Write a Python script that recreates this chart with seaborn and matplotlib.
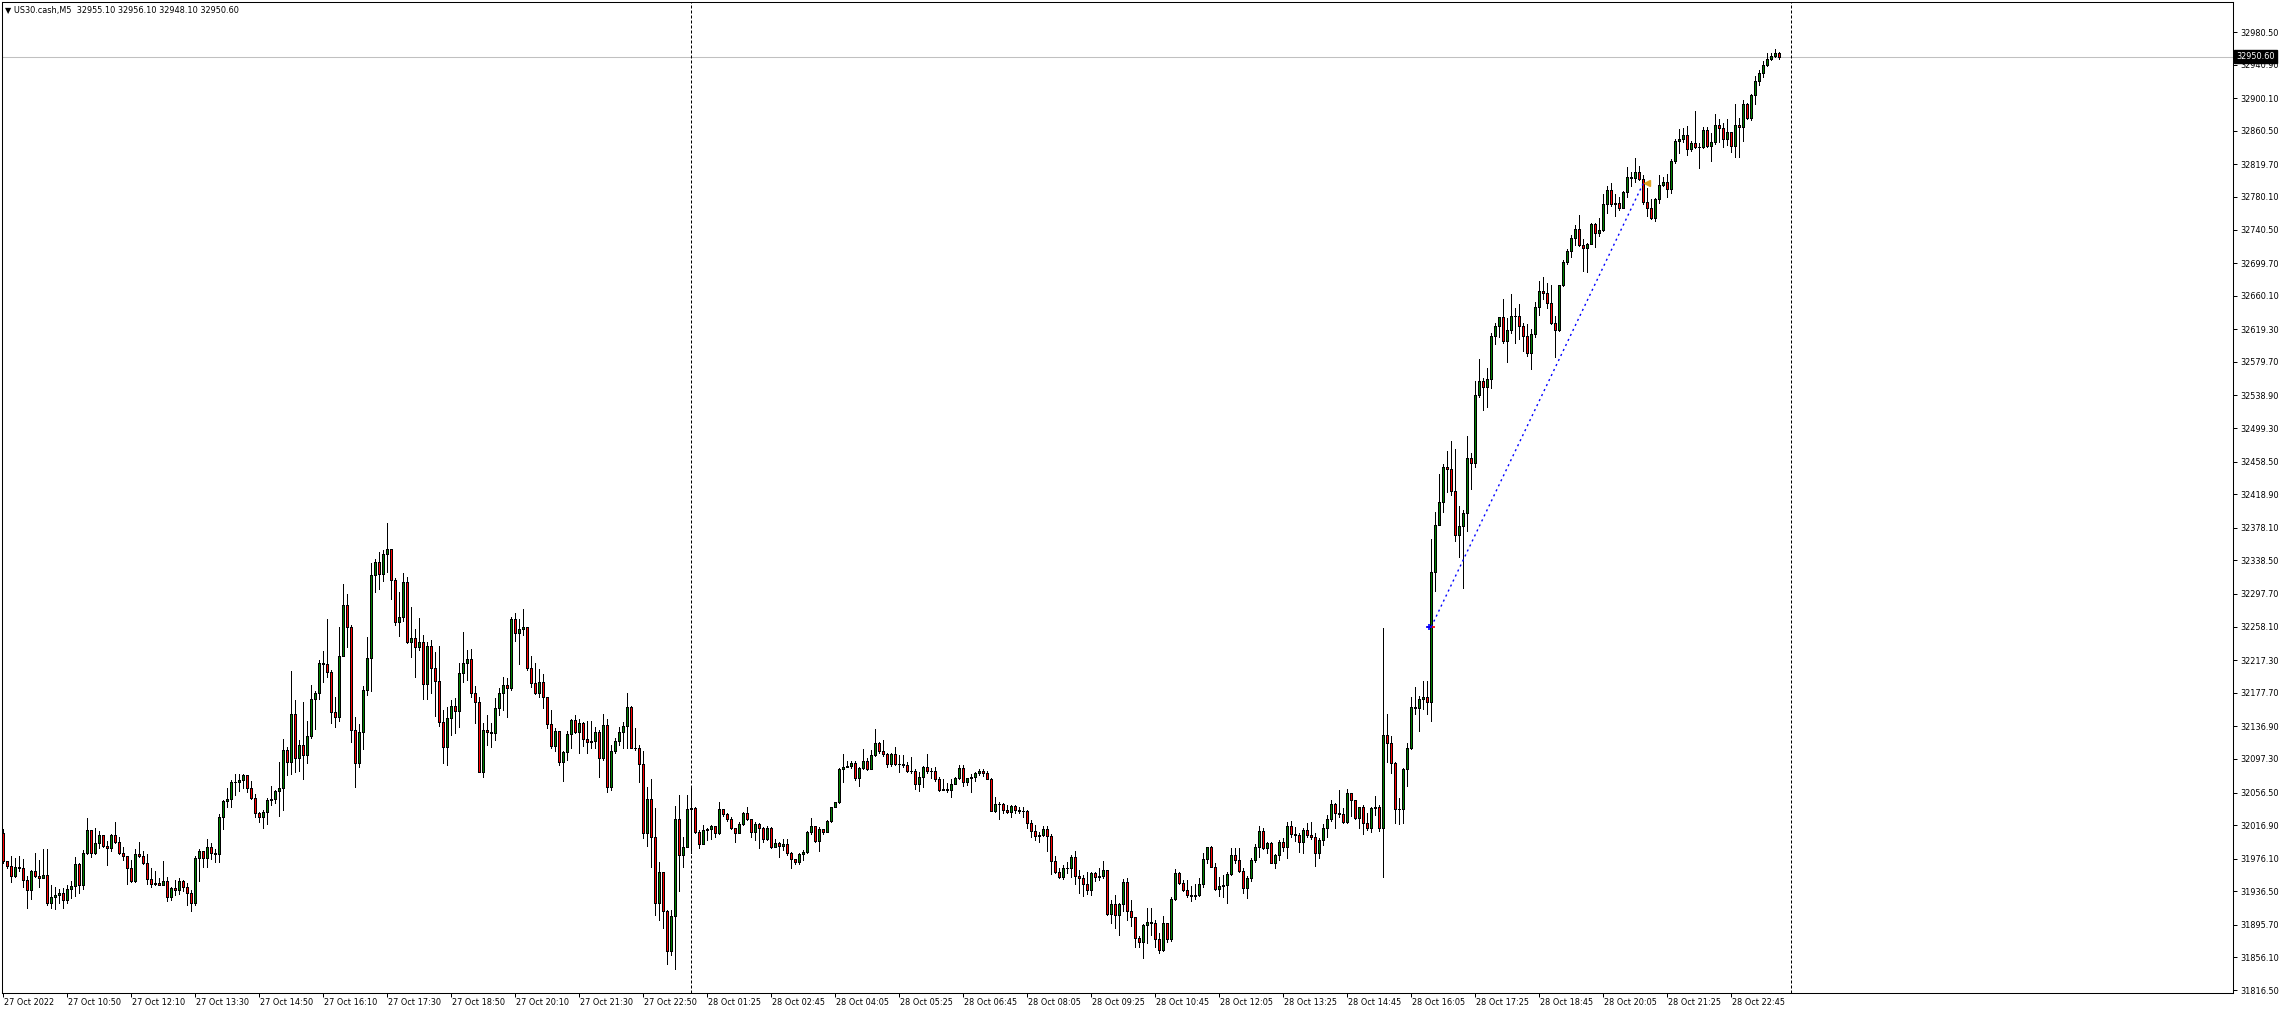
import numpy as np
import pandas as pd
import matplotlib
matplotlib.use("Agg")
import matplotlib.pyplot as plt
import seaborn as sns
from matplotlib.transforms import blended_transform_factory, offset_copy

# ---------------- data (US30.cash, M5) ----------------
first_open = 32007.2

close = [
31973.3, 31967.1, 31954.7, 31965.9, 31965.0, 31950.6, 31938.2, 31960.9, 31955.5, 31952.6,
31956.8, 31922.5, 31929.9, 31932.0, 31934.9, 31925.8, 31939.0, 31943.1, 31969.2, 31944.4,
31982.8, 32010.5, 31982.8, 31994.8, 32004.3, 31991.9, 31989.0, 32004.3, 31996.0, 31982.8,
31979.5, 31965.0, 31948.5, 31981.6, 31979.9, 31971.2, 31951.4, 31945.2, 31946.0, 31944.4,
31948.5, 31929.9, 31940.2, 31938.2, 31949.3, 31941.1, 31934.0, 31922.5, 31977.4, 31984.9,
31976.6, 31990.6, 31982.8, 31981.6, 32027.0, 32045.6, 32048.9, 32069.2, 32069.6, 32071.3,
32077.5, 32062.2, 32049.8, 32031.2, 32026.2, 32033.2, 32047.7, 32048.9, 32058.0, 32062.2,
32107.6, 32093.2, 32151.8, 32098.1, 32114.3, 32102.1, 32125.2, 32170.1, 32177.8, 32213.9,
32212.6, 32202.5, 32153.9, 32147.8, 32222.4, 32284.3, 32257.2, 32132.4, 32091.9, 32129.6,
32181.1, 32219.5, 32320.8, 32336.2, 32322.0, 32346.3, 32352.0, 32314.7, 32264.1, 32269.3,
32312.7, 32239.0, 32243.8, 32233.7, 32239.0, 32187.9, 32234.5, 32207.4, 32192.0, 32142.6,
32112.2, 32146.6, 32161.6, 32155.9, 32201.3, 32214.3, 32218.3, 32177.0, 32166.9, 32081.8,
32132.4, 32129.6, 32128.4, 32158.8, 32177.8, 32187.1, 32183.1, 32267.3, 32249.9, 32255.2,
32257.2, 32208.2, 32189.2, 32177.0, 32191.2, 32172.1, 32139.3, 32113.4, 32131.2, 32094.0,
32105.3, 32127.6, 32144.6, 32130.4, 32140.6, 32121.1, 32118.3, 32119.5, 32129.6, 32098.0,
32138.5, 32062.8, 32106.9, 32119.1, 32130.4, 32137.3, 32160.0, 32111.0, 32110.2, 32090.7,
32007.7, 32048.6, 32002.0, 31921.9, 31959.5, 31912.5, 31864.3, 31906.5, 32023.9, 31980.6,
31990.7, 32036.5, 32038.1, 32008.9, 31993.5, 32010.9, 32011.8, 32015.8, 32007.7, 32036.1,
32030.0, 32023.9, 32013.0, 32006.9, 32017.8, 32031.2, 32023.9, 32008.1, 32018.2, 32013.0,
31999.6, 32013.8, 31989.9, 31994.7, 31991.9, 31993.5, 31983.4, 31975.7, 31971.7, 31981.8,
31984.6, 32008.1, 32015.8, 31998.0, 32012.2, 32008.1, 32021.9, 32038.5, 32044.6, 32084.7,
32087.1, 32089.1, 32091.9, 32074.5, 32085.9, 32094.8, 32085.1, 32102.1, 32116.3, 32107.4,
32103.3, 32091.1, 32103.3, 32091.1, 32091.1, 32089.5, 32082.6, 32082.2, 32066.4, 32074.9,
32087.1, 32082.2, 32082.6, 32072.5, 32060.0, 32061.2, 32059.1, 32066.8, 32073.7, 32085.9,
32068.9, 32073.7, 32074.9, 32079.8, 32082.6, 32079.8, 32073.3, 32034.4, 32042.5, 32042.5,
32035.3, 32032.4, 32040.1, 32035.3, 32034.4, 32033.6, 32019.0, 32010.1, 32004.1, 32005.3,
32011.8, 32004.1, 31973.7, 31959.5, 31954.3, 31964.4, 31965.2, 31977.7, 31955.5, 31953.0,
31944.9, 31938.1, 31958.3, 31954.3, 31955.5, 31962.4, 31908.5, 31921.0, 31907.7, 31920.6,
31947.4, 31912.5, 31905.7, 31879.3, 31874.5, 31895.5, 31898.8, 31897.6, 31878.1, 31865.2,
31897.6, 31878.1, 31927.1, 31958.3, 31946.1, 31938.1, 31932.0, 31930.8, 31932.4, 31944.9,
31975.7, 31989.9, 31966.4, 31938.9, 31942.9, 31944.1, 31957.5, 31980.6, 31974.5, 31961.5,
31940.1, 31953.0, 31974.5, 31989.9, 32009.7, 31989.5, 31994.8, 31971.3, 31980.6, 31996.8,
31989.9, 32016.2, 32005.7, 32004.9, 31996.0, 32010.9, 32004.9, 32002.0, 31982.6, 31998.8,
32013.8, 32024.3, 32042.1, 32031.2, 32030.0, 32020.3, 32055.5, 32047.4, 32025.1, 32038.5,
32019.9, 32013.0, 32037.3, 32038.5, 32013.8, 32126.4, 32117.1, 32091.9, 32036.1, 32037.0,
32084.5, 32111.0, 32159.8, 32158.9, 32170.5, 32172.8, 32166.8, 32324.0, 32382.1, 32410.0,
32451.8, 32449.5, 32422.5, 32369.1, 32379.8, 32396.0, 32463.5, 32456.5, 32539.2, 32556.5,
32549.5, 32558.8, 32611.3, 32623.4, 32634.1, 32605.3, 32618.3, 32635.0, 32636.0, 32623.9,
32610.9, 32590.9, 32613.6, 32646.2, 32665.7, 32663.4, 32651.8, 32627.1, 32618.3, 32672.7,
32700.7, 32714.8, 32729.8, 32740.8, 32721.7, 32717.7, 32722.5, 32746.8, 32736.7, 32740.0,
32771.5, 32788.6, 32771.1, 32772.3, 32766.3, 32786.5, 32803.9, 32803.1, 32810.0, 32801.9,
32774.4, 32766.3, 32755.0, 32777.2, 32794.6, 32797.9, 32789.4, 32823.8, 32848.1, 32850.1,
32855.4, 32838.0, 32845.3, 32841.2, 32840.4, 32861.5, 32842.0, 32846.5, 32867.1, 32863.9,
32850.1, 32858.6, 32842.4, 32867.1, 32864.7, 32893.0, 32876.4, 32903.6, 32921.0, 32931.1,
32940.4, 32947.7, 32951.4, 32955.1, 32950.6,
]

high = [
32011.7, 31973.3, 31979.5, 31977.4, 31979.5, 31975.4, 31954.7, 31962.9, 31982.8, 31974.1,
31987.8, 31987.8, 31944.4, 31942.3, 31939.0, 31940.2, 31943.6, 31948.5, 31978.3, 31971.2,
31986.5, 32025.4, 32010.5, 32013.4, 32009.3, 32004.3, 31998.1, 32006.4, 32020.8, 32002.2,
31989.8, 31979.5, 31974.1, 31987.8, 31996.0, 31985.7, 31981.6, 31965.0, 31961.7, 31952.6,
31973.3, 31953.5, 31942.3, 31950.6, 31952.6, 31950.6, 31946.4, 31938.2, 31979.5, 31987.8,
31985.7, 32000.2, 31994.8, 31987.8, 32029.9, 32047.7, 32062.2, 32071.2, 32079.5, 32078.7,
32078.7, 32077.5, 32070.4, 32055.1, 32033.2, 32035.3, 32049.8, 32064.2, 32060.1, 32094.0,
32121.3, 32111.8, 32203.9, 32169.5, 32120.3, 32166.9, 32143.8, 32187.1, 32180.2, 32217.5,
32228.4, 32267.3, 32205.4, 32172.9, 32258.0, 32309.8, 32297.7, 32260.0, 32148.7, 32139.7,
32185.9, 32245.9, 32334.9, 32339.8, 32349.1, 32351.2, 32384.4, 32351.2, 32317.5, 32300.5,
32323.6, 32317.9, 32282.3, 32255.2, 32268.9, 32247.9, 32239.8, 32241.8, 32226.8, 32234.9,
32156.8, 32160.8, 32168.9, 32170.9, 32213.5, 32251.9, 32229.7, 32230.9, 32185.9, 32172.9,
32140.6, 32150.7, 32140.6, 32170.9, 32183.1, 32196.4, 32195.2, 32269.3, 32274.2, 32267.3,
32279.5, 32258.0, 32222.4, 32214.3, 32206.6, 32200.5, 32170.9, 32156.8, 32134.5, 32131.2,
32107.3, 32131.6, 32145.4, 32150.7, 32145.4, 32142.6, 32143.8, 32143.8, 32136.5, 32132.4,
32151.9, 32145.4, 32114.2, 32122.3, 32136.5, 32142.6, 32177.0, 32161.6, 32134.5, 32114.2,
32106.9, 32063.6, 32072.5, 32037.3, 31972.5, 31959.1, 31913.7, 31913.7, 32040.1, 32053.5,
32002.9, 32053.5, 32061.6, 32039.3, 32010.9, 32017.0, 32013.8, 32017.0, 32015.0, 32045.4,
32035.3, 32031.2, 32027.2, 32013.0, 32021.1, 32033.2, 32039.3, 32023.1, 32021.1, 32019.0,
32015.0, 32016.2, 32015.0, 31999.8, 31996.8, 31999.8, 31999.6, 31984.6, 31975.7, 31983.4,
31986.6, 32010.1, 32025.1, 32015.0, 32015.0, 32011.8, 32023.1, 32039.3, 32045.4, 32085.9,
32103.3, 32094.8, 32094.8, 32095.2, 32087.9, 32109.0, 32098.0, 32108.2, 32133.3, 32118.3,
32120.3, 32104.1, 32104.9, 32112.2, 32102.1, 32102.1, 32094.0, 32100.0, 32085.1, 32081.8,
32088.7, 32103.3, 32085.9, 32087.1, 32075.8, 32072.5, 32068.5, 32072.9, 32075.4, 32089.9,
32089.5, 32074.5, 32079.0, 32081.8, 32085.5, 32085.5, 32083.0, 32074.5, 32050.6, 32045.0,
32044.2, 32041.3, 32041.3, 32041.7, 32039.3, 32039.3, 32035.3, 32023.1, 32017.0, 32008.9,
32016.2, 32016.2, 32006.1, 31979.8, 31965.2, 31968.4, 31972.5, 31980.6, 31985.4, 31962.4,
31956.3, 31960.3, 31960.3, 31960.3, 31964.4, 31973.3, 31954.2, 31925.9, 31932.0, 31921.9,
31951.0, 31952.2, 31925.9, 31905.7, 31882.2, 31896.3, 31915.8, 31915.8, 31901.6, 31885.4,
31906.9, 31897.6, 31929.9, 31963.6, 31959.5, 31950.2, 31950.2, 31943.3, 31944.9, 31952.2,
31982.6, 31990.7, 31991.9, 31970.5, 31954.3, 31956.3, 31960.3, 31988.7, 31988.7, 31988.7,
31964.4, 31955.1, 31976.5, 31993.9, 32015.8, 32013.0, 31996.8, 31996.8, 31981.8, 31998.8,
32000.8, 32020.3, 32021.9, 32015.0, 32006.9, 32013.0, 32019.0, 32020.3, 32006.9, 32000.8,
32018.2, 32029.2, 32047.4, 32044.2, 32059.6, 32037.3, 32060.8, 32055.5, 32047.4, 32039.3,
32041.3, 32031.2, 32039.3, 32052.3, 32041.3, 32256.0, 32151.9, 32125.6, 32094.0, 32049.6,
32086.8, 32117.0, 32172.8, 32184.5, 32174.2, 32191.4, 32191.4, 32364.9, 32397.4, 32443.5,
32455.1, 32471.4, 32483.4, 32474.2, 32404.4, 32399.7, 32489.9, 32469.0, 32556.5, 32583.0,
32559.7, 32571.8, 32614.6, 32627.1, 32634.1, 32656.4, 32633.2, 32662.5, 32644.8, 32650.4,
32627.1, 32626.2, 32619.2, 32652.7, 32677.4, 32683.4, 32675.0, 32672.7, 32635.5, 32673.1,
32703.5, 32716.5, 32733.9, 32746.0, 32758.2, 32729.0, 32724.6, 32748.9, 32748.9, 32754.9,
32783.3, 32793.4, 32796.7, 32783.7, 32780.5, 32787.7, 32816.1, 32810.8, 32827.8, 32817.7,
32806.8, 32790.6, 32777.6, 32778.4, 32806.8, 32804.7, 32808.0, 32825.8, 32850.1, 32862.7,
32863.5, 32866.3, 32848.1, 32884.9, 32845.3, 32865.5, 32864.7, 32857.4, 32880.9, 32874.8,
32870.4, 32874.8, 32859.4, 32893.0, 32875.6, 32897.9, 32893.9, 32905.2, 32927.1, 32934.4,
32945.3, 32954.6, 32954.6, 32959.9, 32956.1,
]

low = [
31971.2, 31965.0, 31947.7, 31953.9, 31960.9, 31941.1, 31916.3, 31927.0, 31953.9, 31942.3,
31953.5, 31919.6, 31916.3, 31914.6, 31922.5, 31916.3, 31922.5, 31928.7, 31931.1, 31934.0,
31939.4, 31981.6, 31978.3, 31981.6, 31989.0, 31989.8, 31968.3, 31985.7, 31994.8, 31981.6,
31974.5, 31945.2, 31947.7, 31947.7, 31978.3, 31970.0, 31945.2, 31941.1, 31943.6, 31943.6,
31944.4, 31924.5, 31925.8, 31932.0, 31932.8, 31936.9, 31920.4, 31912.1, 31919.6, 31948.5,
31965.9, 31965.9, 31975.4, 31972.5, 31972.5, 32012.6, 32039.4, 32039.4, 32053.9, 32058.0,
32062.2, 32056.8, 32048.5, 32027.0, 32020.8, 32013.8, 32017.9, 32041.5, 32043.6, 32027.9,
32035.3, 32077.5, 32078.7, 32081.6, 32083.0, 32072.5, 32091.9, 32122.3, 32134.1, 32169.7,
32191.2, 32197.3, 32141.4, 32136.5, 32143.8, 32222.8, 32232.9, 32118.3, 32063.6, 32087.1,
32108.9, 32174.6, 32180.2, 32300.5, 32304.2, 32313.9, 32324.8, 32291.2, 32260.0, 32247.1,
32265.3, 32238.6, 32221.6, 32197.3, 32229.7, 32170.1, 32170.1, 32177.0, 32149.5, 32137.7,
32092.8, 32089.9, 32126.4, 32129.2, 32136.5, 32191.2, 32193.2, 32172.9, 32140.6, 32081.8,
32075.8, 32114.3, 32112.2, 32120.3, 32150.7, 32156.8, 32148.7, 32181.1, 32241.0, 32212.3,
32247.9, 32205.4, 32184.3, 32176.2, 32172.9, 32158.8, 32134.5, 32110.2, 32107.3, 32089.9,
32070.9, 32096.0, 32110.2, 32128.4, 32104.1, 32113.0, 32104.9, 32110.2, 32110.2, 32075.8,
32096.0, 32057.5, 32059.6, 32104.1, 32114.2, 32110.2, 32110.2, 32110.2, 32108.2, 32069.7,
32000.8, 31991.9, 31966.4, 31907.7, 31901.6, 31892.3, 31848.1, 31859.1, 31841.7, 31937.2,
31966.4, 31990.7, 31983.4, 32006.9, 31989.5, 31994.7, 31998.8, 31999.6, 32002.9, 32006.1,
32028.0, 32022.3, 32012.2, 31996.8, 32008.1, 32017.0, 32023.1, 32002.9, 31998.8, 31988.7,
31996.8, 31998.8, 31988.7, 31989.9, 31978.6, 31986.6, 31980.6, 31964.4, 31969.6, 31969.2,
31974.5, 31983.4, 32006.1, 31996.8, 31985.4, 32006.1, 32008.9, 32021.1, 32038.5, 32043.4,
32069.7, 32087.1, 32086.7, 32071.7, 32064.4, 32084.7, 32083.9, 32085.9, 32100.9, 32104.9,
32100.9, 32087.9, 32088.7, 32089.9, 32081.8, 32087.1, 32081.0, 32080.6, 32060.8, 32058.7,
32063.6, 32080.6, 32073.7, 32070.5, 32058.7, 32059.6, 32057.5, 32051.4, 32067.6, 32072.5,
32064.8, 32065.6, 32057.5, 32070.9, 32077.8, 32077.0, 32072.9, 32034.4, 32033.2, 32023.9,
32031.2, 32031.2, 32026.3, 32031.2, 32031.2, 32027.2, 32013.0, 32002.9, 31998.8, 31996.8,
32004.1, 31985.8, 31957.5, 31958.3, 31953.0, 31951.4, 31958.3, 31954.3, 31944.9, 31934.8,
31931.2, 31932.8, 31932.0, 31949.0, 31950.2, 31953.0, 31907.7, 31897.6, 31891.5, 31883.4,
31912.5, 31901.6, 31894.7, 31869.2, 31869.2, 31855.0, 31873.3, 31883.4, 31869.2, 31861.1,
31863.9, 31875.3, 31876.5, 31925.9, 31944.9, 31936.8, 31930.0, 31925.1, 31927.1, 31930.8,
31941.3, 31971.3, 31966.4, 31938.1, 31930.8, 31930.0, 31921.9, 31956.3, 31971.3, 31960.3,
31934.8, 31927.9, 31949.4, 31971.7, 31978.6, 31987.5, 31982.6, 31970.5, 31964.4, 31974.5,
31985.8, 31977.3, 32002.9, 31997.6, 31984.6, 31982.6, 32002.0, 31999.6, 31967.2, 31977.3,
31992.7, 32002.9, 32022.3, 32013.0, 32026.3, 32019.0, 32019.9, 32028.0, 32023.9, 32013.8,
32005.7, 32011.0, 32008.1, 32029.2, 32009.7, 31954.3, 32094.0, 32080.6, 32019.9, 32018.5,
32019.4, 32064.5, 32109.1, 32151.9, 32131.0, 32157.9, 32151.9, 32143.5, 32301.6, 32383.0,
32397.4, 32421.6, 32417.9, 32362.1, 32342.6, 32305.4, 32374.2, 32425.3, 32451.8, 32536.9,
32521.6, 32524.8, 32548.5, 32601.6, 32609.9, 32603.0, 32579.7, 32614.6, 32603.0, 32607.6,
32592.7, 32586.7, 32571.3, 32609.9, 32636.4, 32656.4, 32644.8, 32626.2, 32585.7, 32616.9,
32672.3, 32698.6, 32707.5, 32721.7, 32720.5, 32690.5, 32689.3, 32723.8, 32718.9, 32733.1,
32739.1, 32761.0, 32769.1, 32757.0, 32764.3, 32766.3, 32780.5, 32793.8, 32798.7, 32800.7,
32771.1, 32757.0, 32753.7, 32751.3, 32772.3, 32793.8, 32780.5, 32784.5, 32821.8, 32833.9,
32847.3, 32831.1, 32836.3, 32839.2, 32815.7, 32840.0, 32841.2, 32824.2, 32844.5, 32847.3,
32840.4, 32842.8, 32835.1, 32829.0, 32828.2, 32848.5, 32874.4, 32873.6, 32893.0, 32916.1,
32926.3, 32939.6, 32946.5, 32950.1, 32948.1,
]

xtick_pos = [0, 16, 32, 48, 64, 80, 96, 112, 128, 144, 160, 176, 192, 208,
             224, 240, 256, 272, 288, 304, 320, 336, 352, 368, 384, 400, 416, 432]
xtick_labels = ["27 Oct 2022", "27 Oct 10:50", "27 Oct 12:10", "27 Oct 13:30",
                "27 Oct 14:50", "27 Oct 16:10", "27 Oct 17:30", "27 Oct 18:50",
                "27 Oct 20:10", "27 Oct 21:30", "27 Oct 22:50", "28 Oct 01:25",
                "28 Oct 02:45", "28 Oct 04:05", "28 Oct 05:25", "28 Oct 06:45",
                "28 Oct 08:05", "28 Oct 09:25", "28 Oct 10:45", "28 Oct 12:05",
                "28 Oct 13:25", "28 Oct 14:45", "28 Oct 16:05", "28 Oct 17:25",
                "28 Oct 18:45", "28 Oct 20:05", "28 Oct 21:25", "28 Oct 22:45"]
ytick_vals = [32980.50, 32940.90, 32900.10, 32860.50, 32819.70, 32780.10, 32740.50,
              32699.70, 32660.10, 32619.30, 32579.70, 32538.90, 32499.30, 32458.50,
              32418.90, 32378.10, 32338.50, 32297.70, 32258.10, 32217.30, 32177.70,
              32136.90, 32097.30, 32056.50, 32016.90, 31976.10, 31936.50, 31895.70,
              31856.10, 31816.50]
separators = [172, 447]
current_price = 32950.60
trend_x = [357, 410]
trend_y = [32258.1, 32797.0]
title_text = "\u25BC US30.cash,M5  32955.10 32956.10 32948.10 32950.60"

# ---------------- build table ----------------
df = pd.DataFrame({"close": close, "high": high, "low": low})
df["idx"] = np.arange(len(df))
df["open"] = df["close"].shift(1).fillna(first_open)
df["bull"] = df["close"] >= df["open"]

# ---------------- figure ----------------
sns.set_theme(style="white")
plt.rcParams["font.family"] = ["DejaVu Sans"]
W, H = 2283, 1013
fig = plt.figure(figsize=(W / 100, H / 100), dpi=100)
fig.patch.set_facecolor("white")
L, R, T, B = 2, 2233, 2, 993
ax = fig.add_axes([L / W, (H - B) / H, (R - L) / W, (B - T) / H])
ax.set_facecolor("white")

ax.set_xlim(-0.325, 557.4)
ax.set_ylim(31812.9, 33017.0)

# current price horizontal line
ax.axhline(current_price, color="#C0C0C0", lw=0.75, zorder=1)
# period separators
for s in separators:
    ax.axvline(s, color="black", lw=0.72, ls=(0, (3, 2)), zorder=1)

# wicks
ax.vlines(df["idx"], df["low"], df["high"], color="black", lw=0.7,
          zorder=2, antialiased=False)
# bodies
colors = np.where(df["bull"], "#008000", "#FF0000")
ax.bar(df["idx"], df["close"] - df["open"], bottom=df["open"], width=0.5,
       color=colors, edgecolor="black", linewidth=0.72, zorder=3,
       antialiased=False)

# trend line (seaborn)
tdf = pd.DataFrame({"x": trend_x, "y": trend_y})
sns.lineplot(data=tdf, x="x", y="y", ax=ax, color="#0000FF", lw=1.0,
             linestyle=(0, (1.5, 2.5)), estimator=None, sort=False, zorder=4)
ax.plot([trend_x[0]], [trend_y[0]], marker="_", color="red", ms=6, mew=1.2, zorder=5)
ax.plot([trend_x[0] - 0.5], [trend_y[0]], marker="+", color="#0000FF", ms=5, mew=1.2, zorder=5)
ax.plot([trend_x[1] + 0.8], [trend_y[1]], marker="<", color="#E0A020", ms=4, mec="#E0A020", zorder=5)

# axes styling
for sp in ax.spines.values():
    sp.set_visible(True)
    sp.set_color("black")
    sp.set_linewidth(0.75)
ax.set_xlabel("")
ax.set_ylabel("")

# x ticks
ax.set_xticks(xtick_pos)
ax.set_xticklabels([])
ax.tick_params(axis="x", bottom=True, direction="out", length=3, width=0.72,
               color="black")
trans_x = blended_transform_factory(ax.transData, ax.transAxes)
trans_x = offset_copy(trans_x, fig=fig, x=1, y=0, units="dots")
for p, lab in zip(xtick_pos, xtick_labels):
    ax.text(p, -9.5 / (B - T), lab, transform=trans_x, ha="left", va="center",
            fontsize=5.9, color="black", clip_on=False)

# y ticks on right
ax.yaxis.tick_right()
ax.set_yticks(ytick_vals)
ax.set_yticklabels([f"{v:.2f}" for v in ytick_vals], fontsize=5.9, color="black")
ax.tick_params(axis="y", right=True, left=False, direction="out", length=3,
               width=0.72, color="black", pad=2)

# current price label box
trans_y = blended_transform_factory(ax.transAxes, ax.transData)
trans_y = offset_copy(trans_y, fig=fig, x=3, y=0, units="dots")
ax.text(1.0, current_price, f"{current_price:.2f}", transform=trans_y,
        ha="left", va="center", fontsize=5.9, color="white", zorder=10,
        clip_on=False,
        bbox=dict(boxstyle="square,pad=0.25", facecolor="black", edgecolor="black"))

# title
fig.text(5 / W, 1 - 10 / H, title_text, ha="left", va="center", fontsize=5.9,
         color="black")

fig.savefig("out.png", dpi=100, facecolor="white")
